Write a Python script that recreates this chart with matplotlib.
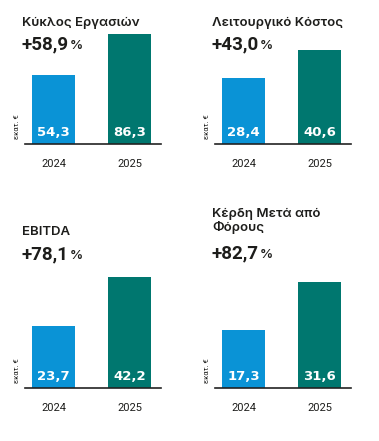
import matplotlib
matplotlib.use("Agg")
import matplotlib.pyplot as plt

# data
titles = ["Κύκλος Εργασιών", "Λειτουργικό Κόστος", "EBITDA", "Κέρδη Μετά από\nΦόρους"]
changes = ["+58,9", "+43,0", "+78,1", "+82,7"]
years = ["2024", "2025"]
vals_2024 = [54.3, 28.4, 23.7, 17.3]
vals_2025 = [86.3, 40.6, 42.2, 31.6]
unit = "εκατ. €"

blue = "#0a93d6"
teal = "#00776f"
dark = "#1d1d1b"

W, H = 379, 441
fig = plt.figure(figsize=(W / 100, H / 100), dpi=100)
fig.patch.set_facecolor("white")

# panel layout in pixels: (column x, baseline y, height of tallest bar, title baseline, change baseline)
panels = [
    (0, 144, 110, 26, 49),
    (190, 144, 94, 26, 49),
    (0, 388, 111, 235, 259),
    (190, 388, 106, 217, 258),
]

def fx(x):
    return x / W

def fy(y):
    return 1 - y / H

renderer = fig.canvas.get_renderer()

for i, (cx, base, hmax, ty, cy) in enumerate(panels):
    ax = fig.add_axes([fx(cx + 25), fy(base), 136 / W, hmax / H])
    v = [vals_2024[i], vals_2025[i]]
    ax.bar([0, 1], v, width=0.566, color=[blue, teal], zorder=2)
    ax.set_xlim(-0.375, 1.414)
    ax.set_ylim(0, max(v))
    for s in ["top", "right", "left"]:
        ax.spines[s].set_visible(False)
    ax.spines["bottom"].set_color("#222222")
    ax.spines["bottom"].set_linewidth(1.2)
    ax.spines["bottom"].set_zorder(3)
    ax.set_yticks([])
    ax.set_xticks([0, 1])
    ax.set_xticklabels(years, fontsize=8, color=dark, family="Roboto")
    ax.tick_params(axis="x", length=0, pad=11)
    ax.patch.set_alpha(0)
    for x, val in zip([0, 1], v):
        ax.annotate(f"{val:.1f}".replace(".", ","), (x, 0), xytext=(0, 5.5),
                    textcoords="offset points", ha="center", va="baseline",
                    color="white", fontsize=9.5, fontweight="bold", family="DejaVu Sans")

    # title (one text per line) and change
    for k, line in enumerate(titles[i].split("\n")):
        fig.text(fx(cx + 22), fy(ty + 14 * k), line, fontsize=9.5, fontweight="semibold",
                 color=dark, family="Inter", va="baseline", ha="left")
    t = fig.text(fx(cx + 22), fy(cy), changes[i], fontsize=13.5, fontweight="bold",
                 color=dark, family="Roboto", va="baseline", ha="left")
    bb = t.get_window_extent(renderer)
    fig.text((bb.x1 + 0.5) / W, fy(cy), "%", fontsize=9.5, fontweight="semibold",
             color=dark, family="Inter", va="baseline", ha="left")

    # unit label
    fig.text(fx(cx + 17), fy(base - 17), unit, rotation=90, fontsize=5.5,
             color=dark, family="Roboto", va="center", ha="center")

fig.savefig("out.png", dpi=100, facecolor="white")
